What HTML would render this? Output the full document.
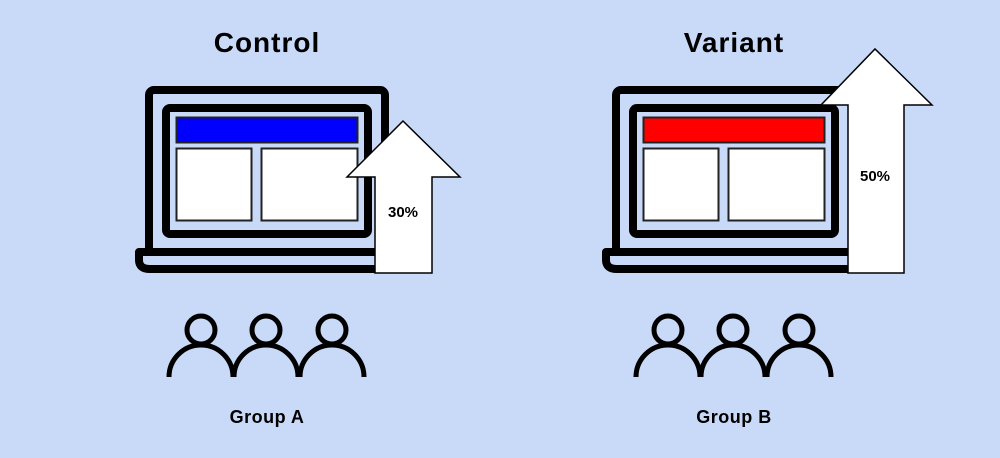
<!DOCTYPE html>
<html><head><meta charset="utf-8"><style>
html,body{margin:0;padding:0;background:#c9daf8;}
svg{display:block;}
text{font-family:"Liberation Sans",sans-serif;font-weight:bold;fill:#000;}
</style></head><body>
<svg width="1000" height="458" viewBox="0 0 1000 458" xmlns="http://www.w3.org/2000/svg">
<rect width="1000" height="458" fill="#c9daf8"/>
<defs>
<g id="laptop">
  <rect x="149" y="90" width="236" height="164" rx="5" fill="none" stroke="#000" stroke-width="8"/>
  <path d="M139 252 H420 V269 H150 Q139 269 139 260 Z" fill="#c9daf8" stroke="#000" stroke-width="8" stroke-linejoin="round"/>
  <rect x="166" y="108" width="202" height="126" rx="4" fill="#c9daf8" stroke="#000" stroke-width="8"/>
  <rect x="176.5" y="148.5" width="75" height="72" fill="#fff" stroke="#222" stroke-width="2"/>
  <rect x="261.5" y="148.5" width="96" height="72" fill="#fff" stroke="#222" stroke-width="2"/>
</g>
<g id="people" fill="none" stroke="#000" stroke-width="5">
  <circle cx="201" cy="330" r="14"/>
  <circle cx="266" cy="330" r="14"/>
  <circle cx="332" cy="330" r="14"/>
  <path d="M169 377 A32 32 0 0 1 233 377"/>
  <path d="M234 377 A32 32 0 0 1 298 377"/>
  <path d="M300 377 A32 32 0 0 1 364 377"/>
</g>
</defs>

<text x="267" y="52" font-size="28" letter-spacing="1" text-anchor="middle">Control</text>
<use href="#laptop"/>
<rect x="176.5" y="117.5" width="181" height="25" fill="#0000ff" stroke="#222" stroke-width="2"/>
<path d="M375 273 V177 H347 L403 121 L460 177 H432 V273 Z" fill="#fff" stroke="#000" stroke-width="1.5"/>
<text x="403" y="217" font-size="15" text-anchor="middle">30%</text>
<use href="#people"/>
<text x="267" y="423" font-size="18" letter-spacing="0.5" text-anchor="middle">Group A</text>

<text x="734" y="52" font-size="28" letter-spacing="1" text-anchor="middle">Variant</text>
<g transform="translate(467,0)">
  <use href="#laptop"/>
  <rect x="176.5" y="117.5" width="181" height="25" fill="#ff0000" stroke="#222" stroke-width="2"/>
  <use href="#people"/>
</g>
<path d="M848 273 V105 H821 L875 49 L932 105 H904 V273 Z" fill="#fff" stroke="#000" stroke-width="1.5"/>
<text x="875" y="181" font-size="15" text-anchor="middle">50%</text>
<text x="734" y="423" font-size="18" letter-spacing="0.5" text-anchor="middle">Group B</text>
</svg>
</body></html>
